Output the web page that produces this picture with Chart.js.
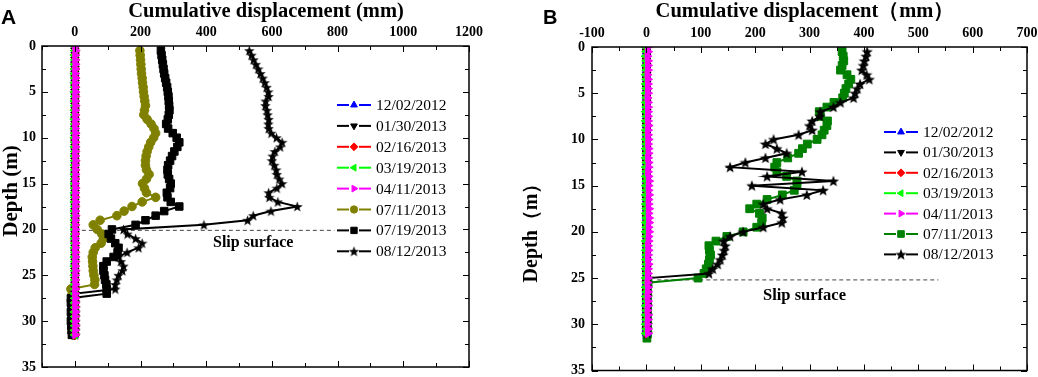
<!DOCTYPE html>
<html>
<head>
<meta charset="utf-8">
<script src="https://cdn.jsdelivr.net/npm/chart.js@4.4.0/dist/chart.umd.min.js"></script>
<style>
  body { margin: 0; background: #fff; }
  #wrap { position: relative; width: 1038px; height: 377px; }
  canvas { position: absolute; top: 0; }
</style>
</head>
<body>
<div id="wrap">
  <canvas id="chartA" width="519" height="377" style="left:0"></canvas>
  <canvas id="chartB" width="519" height="377" style="left:519px"></canvas>
</div>
<script>
// depth of each reading (m), shared by both boreholes
const depths = [
  0, 0.5, 1, 1.5, 2, 2.5, 3, 3.5,
  4, 4.5, 5, 5.5, 6, 6.5, 7, 7.5,
  8, 8.5, 9, 9.5, 10, 10.5, 11, 11.5,
  12, 12.5, 13, 13.5, 14, 14.5, 15, 15.5,
  16, 16.5, 17, 17.5, 18, 18.5, 19, 19.5,
  20, 20.5, 21, 21.5, 22, 22.5, 23, 23.5,
  24, 24.5, 25, 25.5, 26, 26.5, 27, 27.5,
  28, 28.5, 29, 29.5, 30, 30.5, 31, 31.5
];

const labelsA = ['12/02/2012', '01/30/2013', '02/16/2013', '03/19/2013', '04/11/2013', '07/11/2013', '07/19/2013', '08/12/2013'];
const labelsB = ['12/02/2012', '01/30/2013', '02/16/2013', '03/19/2013', '04/11/2013', '07/11/2013', '08/12/2013'];

// ---- panel A, cumulative displacement (mm)
const a1202 = [0,0,0,0,0,0,0,0, 0,0,0,0,0,0,0,0, 0,0,0,0,0,0,0,0, 0,0,0,0,0,0,0,0, 0,0,0,0,0,0,0,0, 0,0,0,0,0,0,0,0, 0,0,0,0,0,0,0,0, 0,0,0,0,0,0,0,0];
const a0130 = [0,0,1,0,0,1,0,0, 1,0,0,1,0,0,1,0, 0,1,0,0,1,0,0,1, 0,0,1,0,0,1,0,0, 1,0,0,1,0,0,1,0, 0,1,0,0,1,0,0,1, 0,0,1,0,0,1,0,0, 1,0,0,1,0,0,1,0];
const a0216 = [0,1,0,1,0,1,0,1, 0,1,0,1,0,1,0,1, 0,1,0,1,0,1,0,1, 0,1,0,1,0,1,0,1, 0,1,0,1,0,1,0,1, 0,1,0,1,0,1,0,1, 0,1,0,1,0,1,0,1, 0,1,0,1,0,1,0,1];
const a0319 = [-1,0,-1,0,-1,0,-1,0, -1,0,-1,0,-1,0,-1,0, -1,0,-1,0,-1,0,-1,0, -1,0,-1,0,-1,0,-1,0, -1,0,-1,0,-1,0,-1,0, -1,0,-1,0,-1,0,-1,0, -1,0,-1,0,-1,0,-1,0, -1,0,-1,0,-1,0,-1,0];
const a0411 = [1,2,1,1,2,1,1,2, 1,1,2,1,1,2,1,1, 2,1,1,2,1,1,2,1, 1,2,1,1,2,1,1,2, 1,1,2,1,1,2,1,1, 2,1,1,2,1,1,2,1, 1,2,1,1,2,1,1,2, 1,1,2,1,1,2,1,1];
const a0711 = [
  null, 198, 199, 200, 201, 202, 203, 205,
  206, 208, 209, 211, 213, 215, 212, 210,
  220, 232, 241, 246, 240, 231, 225, 220,
  217, 215, 215, 218, 226, 218, 206, 212,
  218, 246, 205, 174, 150, 128, 77, 56,
  68, 82, 87, 80, 62, 56, 53, 54,
  55, 56, 58, 61, 60, -12, -8, -6,
  -6, -5, -6, -5, -6, -5, -6, -5
];
const a0719 = [
  null, 262, 264, 266, 268, 270, 272, 275,
  278, 281, 283, 285, 286, 287, 288, 286,
  283, 278, 284, 298, 310, 318, 312, 303,
  296, 290, 284, 282, 283, 287, 292, 290,
  280, 282, 292, 318, 272, 246, 215, 185,
  113, 103, 110, 123, 133, 130, 118, 97,
  87, 87, 90, 92, 96, 97, 97, -12,
  -12, -10, -12, -10, -12, -11, -10, -9
];
const a0812 = [
  null, 531, 538, 544, 551, 558, 565, 572,
  578, 584, 589, 590, 581, 580, 585, 587,
  590, 589, 590, 598, 614, 631, 625, 609,
  602, 600, 607, 613, 615, 622, 631, 615,
  590, 592, 618, 677, 597, 543, 526, 393,
  148, 160, 185, 205, 194, 159, 133, 140,
  148, 145, 133, 128, 123, 123, 2, 1,
  2, 1, 2, 1, 2, 1, 2, 1
];
const slipAx = [0, 790];
const slipAy = [20.1, 20.1];

// ---- panel B
const b1202 = [0,0,0,0,0,0,0,0, 0,0,0,0,0,0,0,0, 0,0,0,0,0,0,0,0, 0,0,0,0,0,0,0,0, 0,0,0,0,0,0,0,0, 0,0,0,0,0,0,0,0, 0,0,0,0,0,0,0,0, 0,0,0,0,0,0,0,null];
const b0130 = [1,0,1,0,1,0,1,0, 1,0,1,0,1,0,1,0, 1,0,1,0,1,0,1,0, 1,0,1,0,1,0,1,0, 1,0,1,0,1,0,1,0, 1,0,1,0,1,0,1,0, 1,0,1,0,1,0,1,0, 1,0,1,0,1,0,1,null];
const b0216 = [0,1,0,1,0,1,0,1, 0,1,0,1,0,1,0,1, 0,1,0,1,0,1,0,1, 0,1,0,1,0,1,0,1, 0,1,0,1,0,1,0,1, 0,1,0,1,0,1,0,1, 0,1,0,1,0,1,0,1, 0,1,0,1,0,1,0,null];
const b0319 = [-1,0,-1,0,-1,0,-1,0, -1,0,-1,0,-1,0,-1,0, -1,0,-1,0,-1,0,-1,0, -1,0,-1,0,-1,0,-1,0, -1,0,-1,0,-1,0,-1,0, -1,0,-1,0,-1,0,-1,0, -1,0,-1,0,-1,0,-1,0, -1,0,-1,0,-1,0,-1,null];
const b0411 = [3,3,2,3,3,3,2,3, 3,3,3,2,3,3,3,3, 3,4,3,3,4,3,4,4, 3,4,4,3,4,5,4,4, 5,4,4,5,4,5,5,4, 5,4,4,3,4,3,3,4, 3,3,3,2,3,3,2,3, 3,2,3,3,2,3,3,null];
const b0711 = [
  null, 360, 362, 363, 360, 357, 369, 376,
  372, 367, 364, 361, 345, 332, 318, 320,
  333, 332, 327, 323, 314, 296, 287, 280,
  260, 240, 236, 240, 258, 277, 277, 272,
  250, 222, 203, 190, 208, 213, 212, 203,
  178, 148, 128, 115, 116, 118, 116, 114,
  110, 106, 95, 3, 2, 1, 2, 1,
  2, 1, 2, 1, 2, 1, 2, 1
];
const b0812 = [
  null, 406, 404, 401, 399, 396, 405, 410,
  393, 388, 384, 381, 357, 344, 320, 319,
  305, 300, 305, 280, 234, 219, 240, 258,
  219, 182, 154, 286, 222, 344, 194, 325,
  295, 246, 215, 222, 249, 251, 249, 215,
  178, 154, 142, 145, 143, 140, 136, 131,
  122, 115, 3, 2, 2, 1, 2, 1,
  2, 1, 2, 1, 2, 1, 2, null
];
const slipBx = [20, 537];
const slipBy = [25.2, 25.2];

const serif = "'Times New Roman', 'Liberation Serif', serif";

function starImage(size, color) {
    const c = document.createElement('canvas');
    c.width = size; c.height = size;
    const g = c.getContext('2d');
    g.fillStyle = color;
    g.beginPath();
    for (let i = 0; i < 10; i++) {
        const r = i % 2 ? size * 0.21 : size * 0.5;
        const ang = -Math.PI / 2 + i * Math.PI / 5;
        g.lineTo(size / 2 + r * Math.cos(ang), size / 2 + 0.5 + r * Math.sin(ang));
    }
    g.closePath();
    g.fill();
    return c;
}

function series(label, values, color, style, radius, rot, order) {
    const pts = [];
    values.forEach((v, i) => { if (v !== null) pts.push({ x: v, y: depths[i] }); });
    return {
        label: label, data: pts, showLine: true,
        borderColor: color, backgroundColor: color, borderWidth: 2,
        pointStyle: style, pointRadius: radius, pointRotation: rot,
        pointBorderWidth: 1, pointHoverRadius: radius, order: order
    };
}

function slipLine(xs, ys) {
    return {
        label: '', data: xs.map((v, i) => ({ x: v, y: ys[i] })), showLine: true,
        borderColor: '#444', borderWidth: 1, borderDash: [4, 3], pointRadius: 0, order: 20
    };
}

// frame, inward ticks, texts and the legend
const framePlugin = {
    id: 'frame',
    afterDatasetsDraw(chart, args, opts) {
        const ctx = chart.ctx, a = chart.chartArea;
        const xs = chart.scales.x, ys = chart.scales.y;
        ctx.save();
        ctx.strokeStyle = '#000';
        ctx.lineWidth = 1;
        const seg = (x1, y1, x2, y2) => { ctx.beginPath(); ctx.moveTo(x1, y1); ctx.lineTo(x2, y2); ctx.stroke(); };
        xs.ticks.forEach(t => {
            const p = Math.round(xs.getPixelForValue(t.value)) + 0.5;
            const len = t.label !== '' ? 6 : 4;
            seg(p, a.top, p, a.top + len);
            seg(p, a.bottom, p, a.bottom - len);
        });
        ys.ticks.forEach(t => {
            const p = Math.round(ys.getPixelForValue(t.value)) + 0.5;
            const len = t.label !== '' ? 6 : 4;
            seg(a.left, p, a.left + len, p);
            seg(a.right, p, a.right - len, p);
        });
        ctx.lineWidth = 1.5;
        ctx.strokeRect(a.left, a.top, a.right - a.left, a.bottom - a.top);

        ctx.fillStyle = '#000';
        opts.texts.forEach(t => {
            ctx.save();
            ctx.font = t.font;
            ctx.textAlign = t.align || 'left';
            ctx.textBaseline = 'middle';
            ctx.translate(t.x, t.y);
            if (t.rot) ctx.rotate(t.rot);
            ctx.fillText(t.text, 0, 0);
            ctx.restore();
        });

        const lg = opts.legend;
        ctx.font = '15.5px ' + serif;
        ctx.textAlign = 'left';
        ctx.textBaseline = 'middle';
        lg.items.forEach((di, i) => {
            const ds = chart.data.datasets[di];
            const y = lg.y + i * lg.step;
            ctx.strokeStyle = ds.borderColor;
            ctx.fillStyle = ds.backgroundColor;
            ctx.lineWidth = 2;
            seg(lg.x, y, lg.x + 12, y);
            seg(lg.x + 22, y, lg.x + 34, y);
            ctx.lineWidth = 1;
            Chart.helpers.drawPoint(ctx, {
                pointStyle: ds.pointStyle, radius: ds.pointRadius * 0.85,
                rotation: ds.pointRotation, borderWidth: 1
            }, lg.x + 17, y);
            ctx.fillStyle = '#000';
            ctx.fillText(ds.label, lg.x + 39, y + 1);
        });
        ctx.restore();
    }
};

function axisTicks(min, max, step, labelled) {
    return {
        type: 'linear', min: min, max: max,
        grid: { display: false, drawTicks: false },
        border: { display: false },
        ticks: {
            stepSize: step, autoSkip: false, maxRotation: 0, color: '#000',
            font: { family: serif, weight: 'bold', size: 14 },
            callback: v => labelled(v) ? String(v) : ''
        }
    };
}

function noOverhang(s) {
    s.paddingLeft = 0; s.paddingRight = 0; s.paddingTop = 0; s.paddingBottom = 0;
}

function makeChart(id, datasets, box, frameOpts) {
    const x = axisTicks(box.xmin, box.xmax, box.xstep, box.xlab);
    x.position = 'top';
    x.ticks.padding = 5;
    x.afterFit = s => { s.height = box.top; noOverhang(s); };
    const y = axisTicks(0, 35, 2.5, v => v % 5 === 0);
    y.reverse = true;
    y.ticks.padding = box.ypad;
    y.afterFit = s => { s.width = box.left; noOverhang(s); };
    return new Chart(document.getElementById(id), {
        type: 'scatter',
        data: { datasets: datasets },
        options: {
            responsive: false,
            animation: false,
            layout: { padding: { left: 0, top: 0, right: box.right, bottom: box.bottom } },
            plugins: { legend: { display: false }, tooltip: { enabled: false }, frame: frameOpts },
            scales: { x: x, y: y }
        },
        plugins: [framePlugin]
    });
}

const starA = starImage(11, '#000');
makeChart('chartA', [
    series(labelsA[0], a1202, '#0000ff', 'triangle', 4.6, 0, 5),
    series(labelsA[1], a0130, '#000000', 'triangle', 4.6, 180, 4),
    series(labelsA[2], a0216, '#ff0000', 'rectRot', 4.6, 0, 3),
    series(labelsA[3], a0319, '#00ff00', 'triangle', 4.6, -90, 2),
    series(labelsA[4], a0411, '#ff00ff', 'triangle', 4.6, 90, 1),
    series(labelsA[5], a0711, '#808000', 'circle', 4.3, 0, 8),
    series(labelsA[6], a0719, '#000000', 'rect', 5.3, 0, 7),
    series(labelsA[7], a0812, '#000000', starA, 5, 0, 6),
    slipLine(slipAx, slipAy)
], { xmin: -100, xmax: 1200, xstep: 100, xlab: v => v >= 0 && v % 200 === 0, left: 42, top: 46, right: 50, bottom: 10, ypad: 6 }, {
    texts: [
        { text: 'A', x: 1, y: 18, font: 'bold 21px Arial, "Liberation Sans", sans-serif' },
        { text: 'Cumulative displacement (mm)', x: 266, y: 12, align: 'center', font: 'bold 20.5px ' + serif },
        { text: 'Depth (m)', x: 12, y: 191, align: 'center', rot: -Math.PI / 2, font: 'bold 21px ' + serif },
        { text: 'Slip surface', x: 213, y: 243, font: 'bold 16px ' + serif }
    ],
    legend: { x: 337, y: 105, step: 20.9, items: [0, 1, 2, 3, 4, 5, 6, 7] }
});

const starB = starImage(12, '#000');
makeChart('chartB', [
    series(labelsB[0], b1202, '#0000ff', 'triangle', 4.6, 0, 5),
    series(labelsB[1], b0130, '#000000', 'triangle', 4.6, 180, 4),
    series(labelsB[2], b0216, '#ff0000', 'rectRot', 4.6, 0, 3),
    series(labelsB[3], b0319, '#00ff00', 'triangle', 4.6, -90, 2),
    series(labelsB[4], b0411, '#ff00ff', 'triangle', 4.6, 90, 1),
    series(labelsB[5], b0711, '#008000', 'rect', 5.5, 0, 7),
    series(labelsB[6], b0812, '#000000', starB, 5, 0, 6),
    slipLine(slipBx, slipBy)
], { xmin: -100, xmax: 700, xstep: 50, xlab: v => v % 100 === 0, left: 73, top: 47, right: 11, bottom: 5, ypad: 7 }, {
    texts: [
        { text: 'B', x: 24, y: 18, font: 'bold 20px Arial, "Liberation Sans", sans-serif' },
        { text: 'Cumulative displacement\uff08mm\uff09', x: 286, y: 12, align: 'center', font: 'bold 20.5px ' + serif },
        { text: 'Depth\uff08m\uff09', x: 13, y: 228, align: 'center', rot: -Math.PI / 2, font: 'bold 20px ' + serif },
        { text: 'Slip surface', x: 244, y: 296, font: 'bold 16.5px ' + serif }
    ],
    legend: { x: 365, y: 132, step: 20.4, items: [0, 1, 2, 3, 4, 5, 6] }
});
</script>
</body>
</html>
